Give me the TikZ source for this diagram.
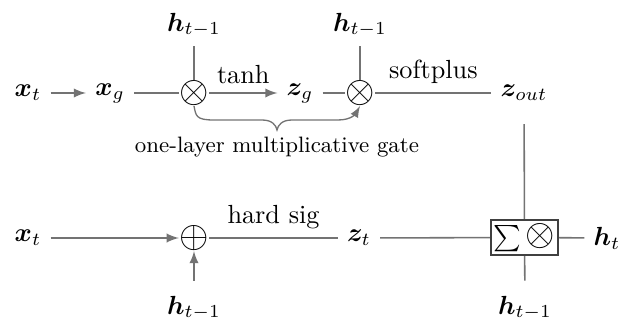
\documentclass[tikz,border=0pt]{standalone}
\usepackage{amsmath, amssymb}
\usepackage{bm}
\usepackage{tikz}
\usetikzlibrary{shapes, arrows, positioning}

\begin{document}
\begin{tikzpicture}[x=0.0134cm, y=0.0134cm,
    wire/.style={draw=black!55, line width=0.6pt},
    arr/.style={wire, -latex},
    opnode/.style={font=\Large, inner sep=0pt},
    cellbox/.style={draw=black!75, line width=0.9pt, inner sep=1pt,
                    minimum width=0.84cm, minimum height=0.47cm}]
    \useasboundingbox (0,0) rectangle (640,325);

    % Obere Zeile: multiplikatives Gate
    \node (xt1) at (28,232) {$\bm{x}_t$};
    \node (xg) at (110,232) {$\bm{x}_g$};
    \node[opnode] (o1) at (194,232) {$\otimes$};
    \node (h1) at (194,300) {$\bm{h}_{t-1}$};
    \node (zg) at (300,232) {$\bm{z}_g$};
    \node[opnode] (o2) at (360,232) {$\otimes$};
    \node (h2) at (360,300) {$\bm{h}_{t-1}$};
    \node (zout) at (524,232) {$\bm{z}_{out}$};

    \draw[arr] (xt1) -- (xg);
    \draw[wire] (xg) -- (o1);
    \draw[wire] (h1) -- (o1);
    \draw[arr] (o1) -- node[above] {tanh} (zg);
    \draw[wire] (zg) -- (o2);
    \draw[wire] (h2) -- (o2);
    \draw[wire] (o2) -- node[above] {softplus} (zout);

    % Klammer unter dem Gate
    \coordinate (tip) at (277,195);
    \draw[arr, line width=0.5pt] (o1.south) .. controls +(2,-10) and +(-18,0) .. (214,205)
        -- (262,205) .. controls +(10,0) and +(-1,5) .. (tip)
        .. controls +(1,5) and +(-10,0) .. (292,205)
        -- (338,205) .. controls +(14,0) and +(-4,-7) .. (o2.south);
    \node[font=\fontsize{8.5}{10}\selectfont] (gate) at (277,178) {one-layer multiplicative gate};

    % Untere Zeile
    \node (xt2) at (28,87) {$\bm{x}_t$};
    \node[opnode] (op) at (194,87) {$\oplus$};
    \node (h3) at (194,17) {$\bm{h}_{t-1}$};
    \node (zt) at (359,87) {$\bm{z}_t$};
    \node[cellbox] (cell) at (524.5,87.5) {$\sum$\,{\Large$\otimes$}};
    \node (ht) at (607,87) {$\bm{h}_t$};
    \node (h4) at (525,17) {$\bm{h}_{t-1}$};

    \draw[arr] (xt2) -- (op);
    \draw[arr, shorten <=0.8mm] (h3) -- (op);
    \draw[wire] (op) -- node[above] {hard sig} (zt);
    \draw[wire] (zt) -- (cell);
    \draw[wire] (cell) -- (ht);
    \draw[wire, shorten <=0.8mm] (h4) -- (cell);
    \draw[wire, shorten <=1.9mm] (zout) -- (cell);
\end{tikzpicture}
\end{document}
